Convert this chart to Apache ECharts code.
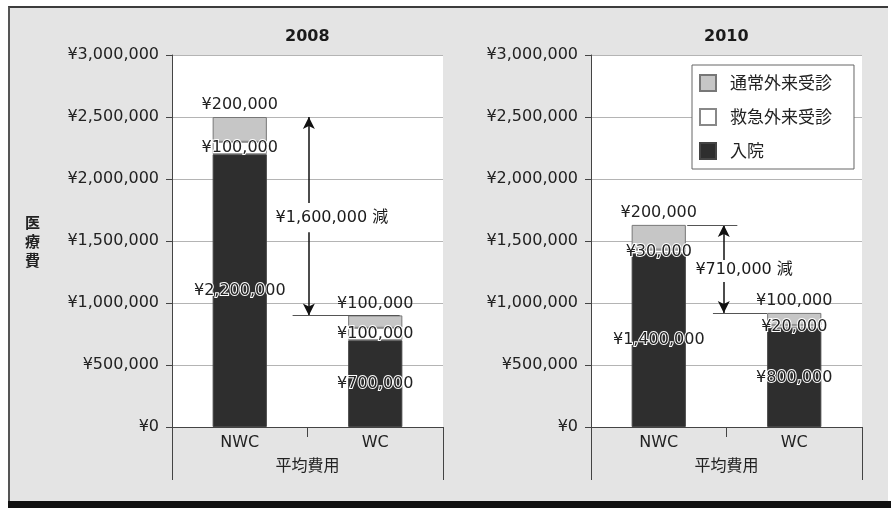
<!DOCTYPE html>
<html>
<head>
<meta charset="utf-8">
<script src="https://cdn.jsdelivr.net/npm/echarts@6/dist/echarts.min.js"></script>
<style>
  html, body { margin: 0; padding: 0; background: #ffffff; }
  #wrap { position: relative; width: 891px; height: 508px; overflow: hidden; }
  #frame { position: absolute; left: 8px; top: 6px; width: 878px; height: 494px;
           background: #e4e4e4; border-top: 2px solid #3c3c3c; border-left: 2px solid #555; }
  #bottombar { position: absolute; left: 8px; top: 501px; width: 883px; height: 7px; background: #111; }
  #chart { position: absolute; left: 0; top: 0; width: 891px; height: 508px; }
</style>
</head>
<body>
<div id="wrap">
  <div id="frame"></div>
  <div id="bottombar"></div>
  <div id="chart"></div>
</div>
<script>
// ---- data ----
const categories = ['NWC', 'WC'];
const panelTitles = ['2008', '2010'];
const seriesNames = ['通常外来受診', '救急外来受診', '入院'];
const inpatient2008 = [2200000, 700000];
const emergency2008 = [100000, 100000];
const outpatient2008 = [200000, 100000];
const inpatient2010 = [1400000, 800000];
const emergency2010 = [30000, 20000];
const outpatient2010 = [200000, 100000];
const yTicks = [0, 500000, 1000000, 1500000, 2000000, 2500000, 3000000];
const yAxisName = '医療費';
const xAxisName = '平均費用';
// annotation: difference text and arrow extents (x in category-index units 0..2)
const diffText = ['¥1,600,000 減', '¥710,000 減'];
const diffTextPos = [[1.18, 1685000], [1.13, 1266000]];
const arrowX = [1.01, 0.98];
const arrowTop = [2500000, 1630000];
const arrowBottom = [900000, 920000];
const arrowGapTop = [1806000, 1347000];
const arrowGapBottom = [1570000, 1170000];
const refLines = [
  [[[0.89, 900000], [1.68, 900000]]],
  [[[0.71, 1630000], [1.08, 1630000]], [[0.90, 920000], [1.30, 920000]]]
];

const FONT = "'DejaVu Sans', 'Noto Sans CJK JP', sans-serif";
const CJK = "'Noto Sans CJK JP', 'DejaVu Sans', sans-serif";
const TXT = '#222';
const yen = v => '¥' + Number(v).toLocaleString('en-US');

const grids = [
  { left: 172, right: 448, top: 55, bottom: 81 },
  { left: 591, right: 29, top: 55, bottom: 81 }
];
const colors = { out: '#c6c6c6', emer: '#ffffff', inp: '#2e2e2e' };
const labelBase = {
  show: true, fontFamily: FONT, fontSize: 16, color: TXT,
  textBorderColor: '#fff', textBorderWidth: 2,
  formatter: p => yen(p.value)
};

const option = {
  animation: false,
  textStyle: { fontFamily: FONT },
  title: panelTitles.map((t, i) => ({
    text: t, left: (i === 0 ? 307 : 726) - 22, top: 29, padding: 0,
    textStyle: { fontFamily: FONT, fontSize: 16, fontWeight: 'bold', color: '#1a1a1a' }
  })),
  legend: {
    data: seriesNames, orient: 'vertical', left: 692, top: 65,
    padding: [9, 22, 9, 7], itemGap: 16, itemWidth: 16, itemHeight: 16,
    backgroundColor: '#fff', borderColor: '#666', borderWidth: 1, borderRadius: 0,
    icon: 'rect',
    textStyle: { fontFamily: CJK, fontSize: 17, color: TXT, padding: [0, 0, 0, 9] }
  },
  grid: grids.map(g => Object.assign({ show: true, backgroundColor: '#fff', borderWidth: 0 }, g)),
  xAxis: [0, 1].map(i => ({
    type: 'category', data: categories, gridIndex: i,
    name: xAxisName, nameLocation: 'middle', nameGap: 30,
    nameTextStyle: { fontFamily: CJK, fontSize: 16, color: TXT },
    axisLine: { lineStyle: { color: '#444', width: 1 } },
    axisTick: { show: true, length: 10, lineStyle: { color: '#444' } },
    axisLabel: { fontFamily: FONT, fontSize: 16, color: TXT, margin: 8 }
  })).concat([0, 1].map(i => ({
    type: 'value', gridIndex: i, min: 0, max: 2, show: false
  }))),
  yAxis: [0, 1].map(i => ({
    type: 'value', gridIndex: i, min: yTicks[0], max: yTicks[yTicks.length - 1],
    interval: yTicks[1] - yTicks[0],
    name: i === 0 ? yAxisName.split('').join('\n') : '',
    nameLocation: 'middle', nameGap: 132, nameRotate: 0,
    nameTextStyle: { fontFamily: CJK, fontSize: 15, fontWeight: 'bold', color: TXT, lineHeight: 19 },
    axisLine: { show: true, lineStyle: { color: '#444', width: 1 } },
    axisTick: { show: true, length: 6, lineStyle: { color: '#444' } },
    axisLabel: { fontFamily: FONT, fontSize: 16, color: TXT, margin: 13, formatter: v => yen(v) },
    splitLine: { show: true, lineStyle: { color: '#b4b4b4', width: 1 } }
  })),
  series: []
};

const panels = [
  { inp: inpatient2008, emer: emergency2008, out: outpatient2008 },
  { inp: inpatient2010, emer: emergency2010, out: outpatient2010 }
];
panels.forEach((p, i) => {
  option.series.push({
    name: '入院', type: 'bar', stack: 's' + i, xAxisIndex: i, yAxisIndex: i, barWidth: '40%',
    data: p.inp, itemStyle: { color: colors.inp, borderColor: '#444', borderWidth: 1 },
    label: Object.assign({}, labelBase, { position: 'inside' })
  });
  option.series.push({
    name: '救急外来受診', type: 'bar', stack: 's' + i, xAxisIndex: i, yAxisIndex: i, barWidth: '40%',
    data: p.emer, itemStyle: { color: colors.emer, borderColor: '#888', borderWidth: 1 },
    label: Object.assign({}, labelBase, { position: 'inside' })
  });
  option.series.push({
    name: '通常外来受診', type: 'bar', stack: 's' + i, xAxisIndex: i, yAxisIndex: i, barWidth: '40%',
    data: p.out, itemStyle: { color: colors.out, borderColor: '#777', borderWidth: 1 },
    label: Object.assign({}, labelBase, { position: 'top', distance: 4, textBorderWidth: 0 })
  });
  // annotations
  const ml = [
    [{ coord: [arrowX[i], arrowTop[i]], symbol: 'arrow' }, { coord: [arrowX[i], arrowGapTop[i]], symbol: 'none' }],
    [{ coord: [arrowX[i], arrowBottom[i]], symbol: 'arrow' }, { coord: [arrowX[i], arrowGapBottom[i]], symbol: 'none' }]
  ];
  refLines[i].forEach(seg => {
    ml.push([{ coord: seg[0], symbol: 'none', lineStyle: { width: 1, color: '#555' } },
             { coord: seg[1], symbol: 'none' }]);
  });
  option.series.push({
    name: 'annot' + i, type: 'scatter', xAxisIndex: 2 + i, yAxisIndex: i,
    symbolSize: 0, silent: true, itemStyle: { opacity: 1 },
    data: [diffTextPos[i]],
    label: { show: true, position: 'inside', formatter: () => diffText[i],
             fontFamily: FONT, fontSize: 16, color: '#1a1a1a', textBorderColor: '#fff', textBorderWidth: 2 },
    markLine: {
      silent: true, symbolSize: [9, 12], animation: false,
      label: { show: false },
      lineStyle: { color: '#111', width: 1.5, type: 'solid' },
      data: ml
    }
  });
});

// long boundary lines of the category axis boxes
const H = 508, W = 891;
option.graphic = [];
grids.forEach(g => {
  const x0 = g.left, x1 = W - g.right, y = H - g.bottom;
  [x0, x1].forEach(x => option.graphic.push({
    type: 'line', silent: true,
    shape: { x1: x + 0.5, y1: y, x2: x + 0.5, y2: y + 53 },
    style: { stroke: '#444', lineWidth: 1 }
  }));
});

const chart = echarts.init(document.getElementById('chart'), null, { renderer: 'canvas' });
chart.setOption(option);
</script>
</body>
</html>
